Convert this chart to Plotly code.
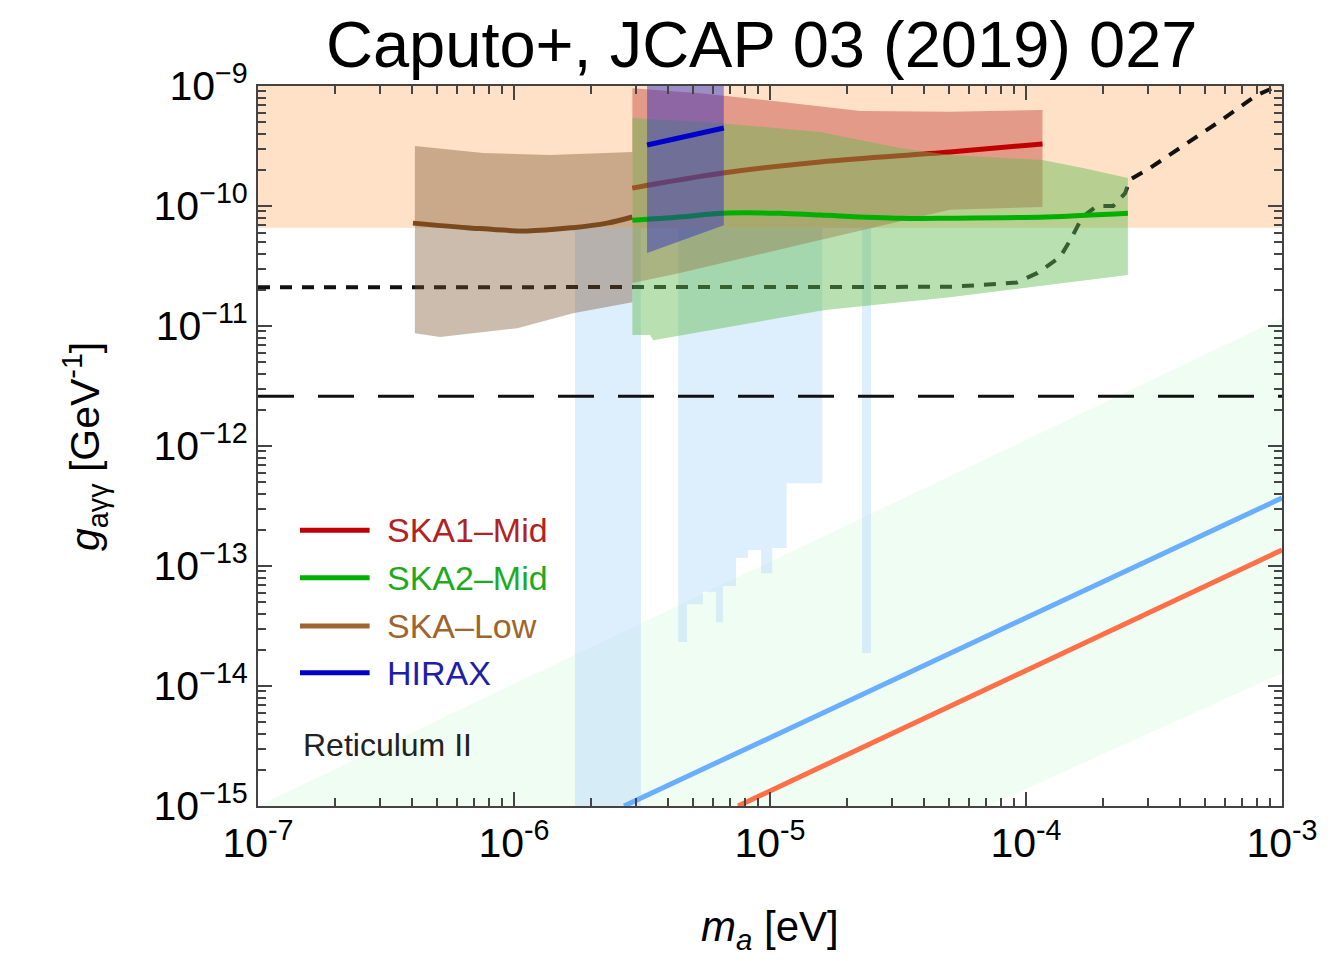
import plotly.graph_objects as go

# ---------------- data (m_a in eV, g in GeV^-1) ----------------
cast_limit = 6.6e-11

# pale diagonal band: upper and lower edges
band_up_m = [1e-7, 1e-3]
band_up_g = [1e-15, 1.17e-11]
band_lo_m = [1e-3, 7.1e-5]
band_lo_g = [1.28e-14, 1e-15]

# diagonal lines
diag_blue_m = [2.69e-6, 1e-3]
diag_blue_g = [1e-15, 3.69e-13]
diag_red_m = [7.5e-6, 1e-3]
diag_red_g = [1e-15, 1.36e-13]

# haloscope exclusion columns
halo1_m = [1.73e-6, 3.13e-6]
halo1_floor = 1e-15
halo2_edges = [4.38e-6, 4.74e-6, 5.47e-6, 6.15e-6, 6.55e-6, 7.36e-6,
               8.20e-6, 9.23e-6, 1.02e-5, 1.16e-5, 1.60e-5]
halo2_floor = [2.33e-14, 4.8e-14, 6.1e-14, 3.4e-14, 6.8e-14, 1.17e-13,
               1.36e-13, 8.7e-14, 1.41e-13, 4.9e-13]
halo3_m = [2.29e-5, 2.48e-5]
halo3_floor = 1.88e-14

# Reticulum II bound (short dashes) and reference level (long dashes)
ret_m = [1e-7, 5.0e-5, 6.8e-5, 9.2e-5, 1.11e-4, 1.36e-4, 1.49e-4, 1.66e-4,
         1.89e-4, 2.19e-4, 2.44e-4, 2.54e-4, 3.05e-4, 5.57e-4, 7.98e-4, 1e-3]
ret_g = [2.1e-11, 2.12e-11, 2.2e-11, 2.3e-11, 2.77e-11, 3.76e-11, 5.2e-11,
         8.1e-11, 1.0e-10, 1.0e-10, 1.28e-10, 1.65e-10, 2.07e-10, 4.9e-10,
         8.4e-10, 1.04e-9]
ref_level_g = 2.6e-12

# SKA-Low
low_top_m = [4.1e-7, 7.57e-7, 1.38e-6, 2.9e-6]
low_top_g = [3.16e-10, 2.77e-10, 2.66e-10, 2.82e-10]
low_bot_m = [4.1e-7, 5.14e-7, 1.03e-6, 1.70e-6, 2.9e-6]
low_bot_g = [8.7e-12, 8.1e-12, 9.6e-12, 1.28e-11, 1.58e-11]
low_m = [4.03e-7, 6.55e-7, 1.12e-6, 1.70e-6, 2.31e-6, 2.9e-6]
low_g = [7.2e-11, 6.6e-11, 6.2e-11, 6.6e-11, 7.2e-11, 8.1e-11]

# SKA1-Mid
mid1_top_m = [2.9e-6, 5.33e-6, 1.09e-5, 2.25e-5, 5.05e-5, 1.16e-4]
mid1_top_g = [9.6e-10, 8.7e-10, 7.4e-10, 6.2e-10, 6.1e-10, 6.3e-10]
mid1_bot_m = [2.9e-6, 4.45e-6, 1.57e-5, 5.05e-5, 1.16e-4]
mid1_bot_g = [2.28e-11, 2.77e-11, 5.2e-11, 9.3e-11, 9.8e-11]
mid1_m = [2.9e-6, 6.55e-6, 1.57e-5, 5.05e-5, 1.16e-4]
mid1_g = [1.41e-10, 1.88e-10, 2.33e-10, 2.82e-10, 3.29e-10]

# SKA2-Mid
mid2_top_m = [2.9e-6, 6.38e-6, 1.57e-5, 3.22e-5, 5.05e-5, 1.16e-4, 1.67e-4, 2.5e-4]
mid2_top_g = [5.4e-10, 4.9e-10, 4.14e-10, 3.04e-10, 2.66e-10, 2.42e-10, 2.07e-10, 1.71e-10]
mid2_bot_m = [2.9e-6, 3.4e-6, 3.5e-6, 5.89e-6, 1.64e-5, 5.05e-5, 2.5e-4]
mid2_bot_g = [8.4e-12, 8.4e-12, 7.6e-12, 9.3e-12, 1.36e-11, 1.74e-11, 2.66e-11]
mid2_m = [2.9e-6, 4.45e-6, 6.55e-6, 1.09e-5, 1.57e-5, 3.22e-5, 5.05e-5, 1.2e-4, 2.5e-4]
mid2_g = [7.6e-11, 8.1e-11, 8.7e-11, 8.7e-11, 8.4e-11, 7.9e-11, 7.9e-11, 8.1e-11, 8.7e-11]

# HIRAX
hirax_m = [3.31e-6, 6.6e-6]
hirax_top_g = [1e-9, 1e-9]
hirax_bot_g = [4.06e-11, 6.9e-11]
hirax_g = [3.22e-10, 4.47e-10]

# legend entries
legend_names = ["SKA1–Mid", "SKA2–Mid", "SKA–Low", "HIRAX"]
legend_line_colors = ["#C00000", "#00B000", "#A0652F", "#0000CC"]
legend_text_colors = ["#B22222", "#1EAA1E", "#A0642D", "#1E1EAA"]

x_decades = [1e-7, 1e-6, 1e-5, 1e-4, 1e-3]
x_ticktext = ["10<sup>-7</sup>", "10<sup>-6</sup>", "10<sup>-5</sup>",
              "10<sup>-4</sup>", "10<sup>-3</sup>"]
y_decades = [1e-15, 1e-14, 1e-13, 1e-12, 1e-11, 1e-10, 1e-9]
y_ticktext = ["10<sup>−15</sup>", "10<sup>−14</sup>", "10<sup>−13</sup>",
              "10<sup>−12</sup>", "10<sup>−11</sup>", "10<sup>−10</sup>",
              "10<sup>−9</sup>"]

FONT = "Liberation Sans, Arial, Helvetica, sans-serif"

fig = go.Figure()


def poly(xs, ys, color):
    fig.add_trace(go.Scatter(x=xs, y=ys, fill="toself", fillcolor=color,
                             mode="lines", line=dict(width=0),
                             hoverinfo="skip", showlegend=False))


def curve(xs, ys, color, width=5, dash=None, shape="linear"):
    fig.add_trace(go.Scatter(x=xs, y=ys, mode="lines",
                             line=dict(color=color, width=width, dash=dash,
                                       shape=shape),
                             hoverinfo="skip", showlegend=False))


def band(top_m, top_g, bot_m, bot_g, color):
    poly(list(top_m) + list(reversed(bot_m)),
         list(top_g) + list(reversed(bot_g)), color)


# CAST region
poly([1e-8, 1e-2, 1e-2, 1e-8], [cast_limit, cast_limit, 1e-8, 1e-8], "#FEE1C6")

# pale diagonal band
poly(band_up_m + band_lo_m, band_up_g + band_lo_g, "#F0FDF2")

# haloscope columns
halo_fill = "rgba(187,221,251,0.5)"
poly([halo1_m[0], halo1_m[1], halo1_m[1], halo1_m[0]],
     [halo1_floor, halo1_floor, cast_limit, cast_limit], halo_fill)
hx, hy = [halo2_edges[0]], [cast_limit]
for i, fl in enumerate(halo2_floor):
    hx += [halo2_edges[i], halo2_edges[i + 1]]
    hy += [fl, fl]
hx.append(halo2_edges[-1])
hy.append(cast_limit)
poly(hx, hy, halo_fill)
poly([halo3_m[0], halo3_m[1], halo3_m[1], halo3_m[0]],
     [halo3_floor, halo3_floor, cast_limit, cast_limit], halo_fill)

# diagonal lines
curve(diag_blue_m, diag_blue_g, "#6AAEFF", width=5)
curve(diag_red_m, diag_red_g, "#FF7048", width=5)

# dashed bounds
curve([1e-7, 1e-3], [ref_level_g, ref_level_g], "#111111", width=3,
      dash="36px,24px")
curve(ret_m, ret_g, "#111111", width=4, dash="12px,10px")

# SKA-Low
band(low_top_m, low_top_g, low_bot_m, low_bot_g, "rgba(122,83,47,0.39)")
curve(low_m, low_g, "#7A4A1E", width=5, shape="spline")

# SKA1-Mid
band(mid1_top_m, mid1_top_g, mid1_bot_m, mid1_bot_g, "rgba(191,48,43,0.4)")
curve(mid1_m, mid1_g, "#C00000", width=5, shape="spline")

# SKA2-Mid
band(mid2_top_m, mid2_top_g, mid2_bot_m, mid2_bot_g, "rgba(100,188,83,0.46)")
curve(mid2_m, mid2_g, "#00B000", width=5, shape="spline")

# HIRAX
band(hirax_m, hirax_top_g, hirax_m, hirax_bot_g, "rgba(40,40,200,0.45)")
curve(hirax_m, hirax_g, "#0000CC", width=5)

# legend drawn by hand
leg_y = [0.383, 0.317, 0.250, 0.185]
for name, lc, tc, yy in zip(legend_names, legend_line_colors,
                            legend_text_colors, leg_y):
    fig.add_shape(type="line", xref="paper", yref="paper",
                  x0=0.041, x1=0.109, y0=yy, y1=yy,
                  line=dict(color=lc, width=5))
    fig.add_annotation(xref="paper", yref="paper", x=0.124, y=yy,
                       xanchor="left", yanchor="middle", showarrow=False,
                       text=name, font=dict(family=FONT, size=34, color=tc))

fig.add_annotation(xref="paper", yref="paper", x=0.042, y=0.085,
                   xanchor="left", yanchor="middle", showarrow=False,
                   text="Reticulum II",
                   font=dict(family=FONT, size=32, color="#222222"))

# title and axis titles
fig.add_annotation(xref="paper", yref="paper", x=0.492, y=1.057,
                   xanchor="center", yanchor="middle", showarrow=False,
                   text="Caputo+, JCAP 03 (2019) 027",
                   font=dict(family=FONT, size=65, color="black"))
fig.add_annotation(xref="paper", yref="paper", x=0.500, y=-0.172,
                   xanchor="center", yanchor="middle", showarrow=False,
                   text="<i>m<sub>a</sub></i> [eV]",
                   font=dict(family=FONT, size=42, color="black"))
fig.add_annotation(xref="paper", yref="paper", x=-0.169, y=0.50,
                   xanchor="center", yanchor="middle", showarrow=False,
                   textangle=-90,
                   text="<i>g</i><sub>aγγ</sub> [GeV<sup>-1</sup>]",
                   font=dict(family=FONT, size=41, color="black"))


def minor_vals(decades):
    vals = []
    for d in decades[:-1]:
        vals += [d * k for k in range(2, 10)]
    return vals


axis_common = dict(type="log", showgrid=False, zeroline=False,
                   showline=True, linecolor="#444444", linewidth=2,
                   mirror="allticks", ticks="inside", ticklen=14,
                   tickwidth=2, tickcolor="#444444",
                   tickfont=dict(family=FONT, size=41, color="black"))

fig.update_xaxes(range=[-7, -3], tickmode="array", tickvals=x_decades,
                 ticktext=x_ticktext,
                 minor=dict(tickmode="array", tickvals=minor_vals(x_decades),
                            ticks="inside", ticklen=8, tickwidth=1.5,
                            tickcolor="#444444", showgrid=False),
                 **axis_common)
fig.update_yaxes(range=[-15, -9], tickmode="array", tickvals=y_decades,
                 ticktext=y_ticktext,
                 minor=dict(tickmode="array", tickvals=minor_vals(y_decades),
                            ticks="inside", ticklen=8, tickwidth=1.5,
                            tickcolor="#444444", showgrid=False),
                 **axis_common)

fig.update_layout(width=1332, height=961, autosize=False,
                  margin=dict(l=258, r=50, t=86, b=155),
                  plot_bgcolor="white", paper_bgcolor="white",
                  showlegend=False)

fig.write_html("out.html")
